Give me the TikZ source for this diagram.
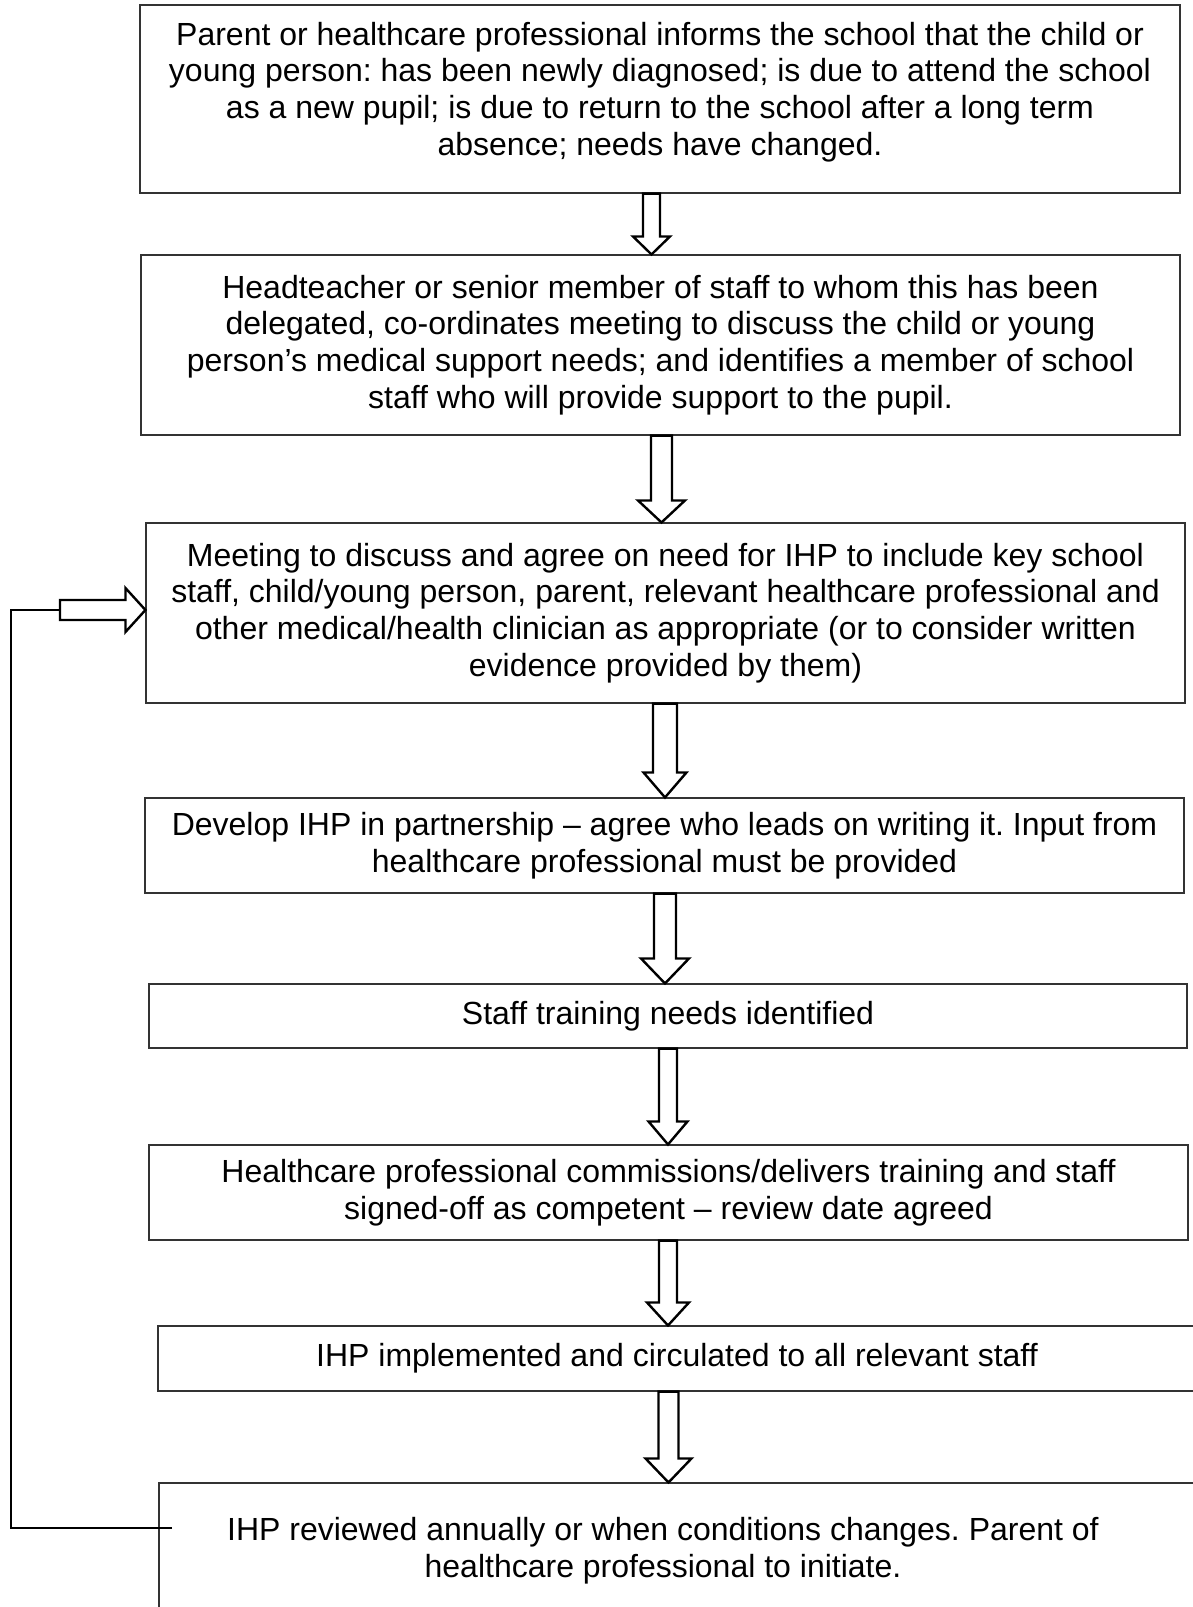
\documentclass[tikz,border=0pt]{standalone}
\usepackage{fontspec}
\setmainfont{Liberation Sans}
\usepackage{tikz}
\usetikzlibrary{calc}
\frenchspacing
\tikzset{
	stepnode/.style={
			rectangle,
			draw=black!80,
			line width=0.55pt,
			fill=white,
			align=center,
			inner sep=0pt,
			font=\fontsize{16pt}{18.4pt}\selectfont
		},
	stepnodetext/.style={
			stepnode,
			draw=none,
			fill=none
		},
	blockarrow/.style={
			draw=black,
			line width=1.2pt,
			fill=white,
			line join=miter
		},
	feedbackline/.style={
			draw=black,
			line width=0.55pt
		}
}
% tail, tip, shaft half width, head half width, head length
\newcommand{\blockdown}[5]{%
	\draw[blockarrow] ($(#1)+(-#3,0)$) -- ($(#1)+(#3,0)$) -- ($(#2)+(#3,-#5)$)
		-- ($(#2)+(#4,-#5)$) -- (#2) -- ($(#2)+(-#4,-#5)$) -- ($(#2)+(-#3,-#5)$) -- cycle;}
\newcommand{\blockright}[5]{%
	\draw[blockarrow] ($(#1)+(0,-#3)$) -- ($(#2)+(-#5,-#3)$) -- ($(#2)+(-#5,-#4)$)
		-- (#2) -- ($(#2)+(-#5,#4)$) -- ($(#2)+(-#5,#3)$) -- ($(#1)+(0,#3)$) -- cycle;}

\begin{document}
\begin{tikzpicture}[x=0.5pt,y=-0.5pt]
\useasboundingbox (0,0) rectangle (1193,1607);
\clip (0,0) rectangle (1193,1607);

\node[stepnode, minimum width=520pt, minimum height=94pt] (b1) at (660,99) {};
\node[stepnodetext] (b1t) at (660,92) {Parent or healthcare professional informs the school that the child or\\young person: has been newly diagnosed; is due to attend the school\\as a new pupil; is due to return to the school after a long term\\absence; needs have changed.};
\node[stepnode, minimum width=519.5pt, minimum height=90pt] (b2) at (660.5,345) {Headteacher or senior member of staff to whom this has been\\delegated, co-ordinates meeting to discuss the child or young\\person’s medical support needs; and identifies a member of school\\staff who will provide support to the pupil.};
\node[stepnode, minimum width=519.5pt, minimum height=90pt] (b3) at (665.5,613) {Meeting to discuss and agree on need for IHP to include key school\\staff, child/young person, parent, relevant healthcare professional and\\other medical/health clinician as appropriate (or to consider written\\evidence provided by them)};
\node[stepnode, minimum width=519.5pt, minimum height=47.5pt] (b4) at (664.5,845.5) {Develop IHP in partnership – agree who leads on writing it. Input from\\healthcare professional must be provided};
\node[stepnode, minimum width=519pt, minimum height=32pt] (b5) at (668,1016) {Staff training needs identified};
\node[stepnode, minimum width=519.5pt, minimum height=47.5pt] (b6) at (668.5,1192.5) {Healthcare professional commissions/delivers training and staff\\signed-off as competent – review date agreed};
\node[stepnode, minimum width=519pt, minimum height=32.5pt] (b7) at (677,1358.5) {IHP implemented and circulated to all relevant staff};
\node[stepnode, minimum width=519pt, minimum height=71pt] (b8) at (678,1554) {};
\node[stepnodetext] (b8t) at (663,1551) {IHP reviewed annually or when conditions changes. Parent of\\healthcare professional to initiate.};

\coordinate (t1) at ($(b1.south)+(-8.5,0)$); \coordinate (p1) at (t1 |- b2.north);
\coordinate (t2) at ($(b2.south)+(1,0)$);    \coordinate (p2) at (t2 |- b3.north);
\coordinate (t3) at ($(b3.south)+(-0.5,0)$); \coordinate (p3) at (t3 |- b4.north);
\coordinate (t4) at ($(b4.south)+(0.5,0)$);  \coordinate (p4) at (t4 |- b5.north);
\coordinate (t5) at (b5.south);              \coordinate (p5) at (t5 |- b6.north);
\coordinate (t6) at ($(b6.south)+(-0.5,0)$); \coordinate (p6) at (t6 |- b7.north);
\coordinate (t7) at ($(b7.south)+(-8.5,0)$); \coordinate (p7) at (t7 |- b8.north);

\blockdown{t1}{p1}{8.5}{18.5}{18}
\blockdown{t2}{p2}{10.5}{23.5}{22}
\blockdown{t3}{p3}{12}{21.5}{25}
\blockdown{t4}{p4}{11}{24}{25}
\blockdown{t5}{p5}{9}{19.5}{23}
\blockdown{t6}{p6}{9}{21}{23}
\blockdown{t7}{p7}{10}{23}{24}

% loop back from the review box
\coordinate (fb0) at (172,1528);
\coordinate (fb1) at (11,610);
\coordinate (fb2) at (60,610);
\coordinate (fb3) at (fb2 -| b3.west);
\draw[feedbackline] (fb0) -| (fb1) -- (fb2);
\blockright{fb2}{fb3}{10}{22}{20}

\end{tikzpicture}
\end{document}
